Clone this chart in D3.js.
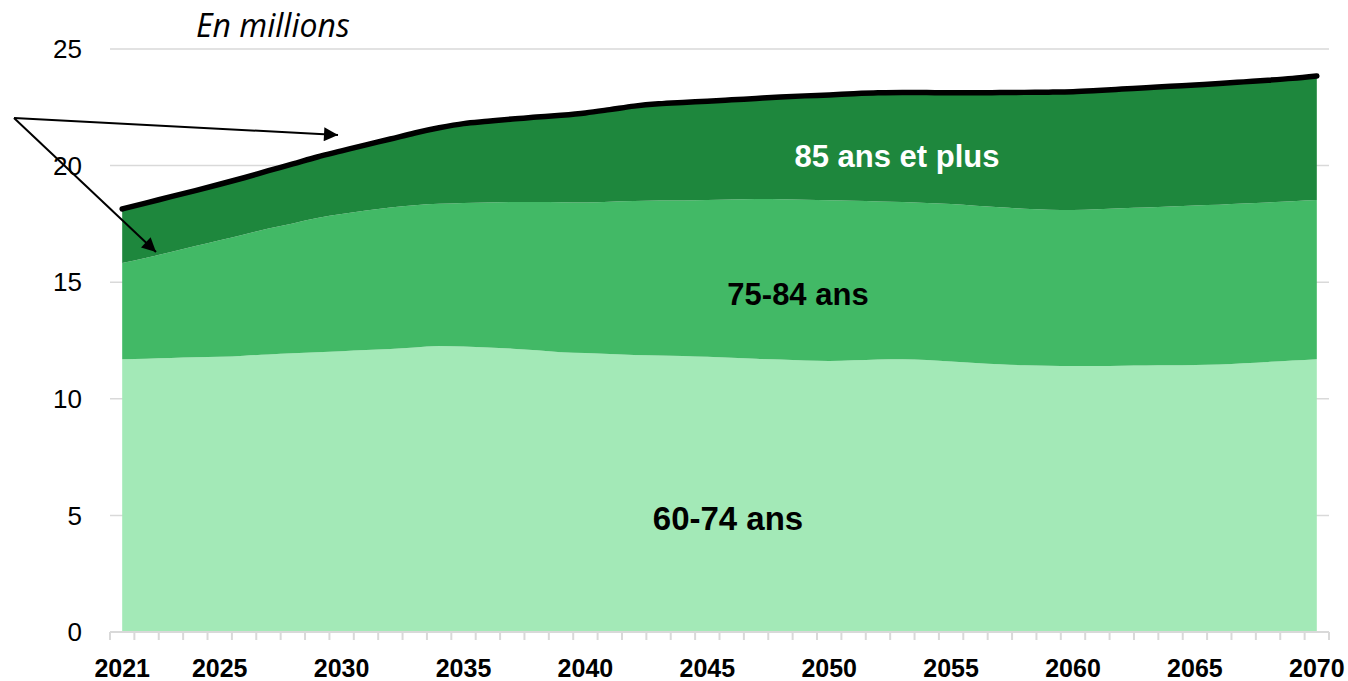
<!DOCTYPE html>
<html>
<head>
<meta charset="utf-8">
<script src="https://cdn.jsdelivr.net/npm/d3@7"></script>
<style>
  body { margin: 0; background: #fff; }
</style>
</head>
<body>
<svg id="chart"></svg>
<script>
var years = d3.range(2021, 2071)

var tickYears = [2021, 2025, 2030, 2035, 2040, 2045, 2050, 2055, 2060, 2065, 2070]

var yTicks = [0, 5, 10, 15, 20, 25]

var seriesNames = ["60-74 ans", "75-84 ans", "85 ans et plus"]

// en millions
var age6074 = [11.70, 11.72, 11.75, 11.78, 11.80, 11.85, 11.90, 11.95, 12.00, 12.04,
               12.09, 12.14, 12.20, 12.26, 12.24, 12.20, 12.15, 12.08, 12.00, 11.96,
               11.92, 11.88, 11.86, 11.84, 11.80, 11.76, 11.72, 11.68, 11.64, 11.62,
               11.65, 11.69, 11.70, 11.66, 11.60, 11.53, 11.48, 11.44, 11.42, 11.41,
               11.41, 11.42, 11.43, 11.44, 11.45, 11.47, 11.52, 11.58, 11.64, 11.70]

var age7584 = [4.12, 4.33, 4.55, 4.77, 5.00, 5.20, 5.40, 5.57, 5.75, 5.88,
               5.98, 6.06, 6.10, 6.10, 6.16, 6.22, 6.29, 6.36, 6.43, 6.46,
               6.53, 6.60, 6.64, 6.66, 6.72, 6.79, 6.85, 6.88, 6.90, 6.89,
               6.84, 6.77, 6.74, 6.74, 6.75, 6.75, 6.73, 6.71, 6.69, 6.69,
               6.72, 6.75, 6.77, 6.81, 6.84, 6.85, 6.85, 6.84, 6.83, 6.82]

var age85plus = [2.32, 2.35, 2.37, 2.38, 2.40, 2.43, 2.48, 2.55, 2.62, 2.71,
                 2.82, 2.94, 3.10, 3.26, 3.40, 3.48, 3.56, 3.64, 3.73, 3.84,
                 3.95, 4.07, 4.15, 4.21, 4.24, 4.27, 4.31, 4.38, 4.45, 4.52,
                 4.59, 4.66, 4.70, 4.73, 4.77, 4.84, 4.92, 4.99, 5.04, 5.07,
                 5.09, 5.11, 5.14, 5.15, 5.17, 5.20, 5.22, 5.24, 5.27, 5.32]

var colors = ["#a3e9b7", "#42b966", "#1e873d"]

var dimensions = ({
    width: 1348,
    height: 681,
    margin: {
        top: 49,
        bottom: 49,
        right: 19,
        left: 110
    }
})

var data = years.map(function(y, i){
    return { year: y, "60-74 ans": age6074[i], "75-84 ans": age7584[i], "85 ans et plus": age85plus[i] }
})

var svg = d3.select("#chart")
            .attr("width", dimensions.width)
            .attr("height", dimensions.height)
            .style("font-family", "'Liberation Sans', Arial, sans-serif")

var xScale = d3.scalePoint()
               .domain(years)
               .range([dimensions.margin.left, dimensions.width - dimensions.margin.right])
               .padding(0.5)

var yScale = d3.scaleLinear()
               .domain([0, 25])
               .range([dimensions.height - dimensions.margin.bottom, dimensions.margin.top])

var x0 = dimensions.margin.left
var x1 = dimensions.width - dimensions.margin.right

// gridlines
svg.append("g")
   .selectAll("line")
   .data(yTicks.filter(function(d){ return d > 0 }))
   .enter()
   .append("line")
   .attr("x1", x0)
   .attr("x2", x1)
   .attr("y1", function(d){ return yScale(d) })
   .attr("y2", function(d){ return yScale(d) })
   .attr("stroke", "#d9d9d9")
   .attr("stroke-width", 1.5)

var stack = d3.stack().keys(seriesNames)
var layers = stack(data)

var area = d3.area()
             .x(function(d){ return xScale(d.data.year) })
             .y0(function(d){ return yScale(d[0]) })
             .y1(function(d){ return yScale(d[1]) })
             .curve(d3.curveMonotoneX)

svg.append("g")
   .selectAll("path")
   .data(layers)
   .enter()
   .append("path")
   .attr("d", area)
   .attr("fill", function(d, i){ return colors[i] })

// contour noir du total
var topLine = d3.line()
                .x(function(d){ return xScale(d.data.year) })
                .y(function(d){ return yScale(d[1]) })
                .curve(d3.curveMonotoneX)

svg.append("path")
   .datum(layers[2])
   .attr("d", topLine)
   .attr("fill", "none")
   .attr("stroke", "#000")
   .attr("stroke-width", 5.5)
   .attr("stroke-linecap", "round")

// axe des x : graduations entre les categories
var step = xScale.step()
var yBase = yScale(0)
var xAxisG = svg.append("g")
xAxisG.append("line")
      .attr("x1", x0).attr("x2", x1)
      .attr("y1", yBase).attr("y2", yBase)
      .attr("stroke", "#d9d9d9")
      .attr("stroke-width", 2)
xAxisG.selectAll(".tick")
      .data(d3.range(years.length + 1))
      .enter()
      .append("line")
      .attr("x1", function(i){ return x0 + i * step })
      .attr("x2", function(i){ return x0 + i * step })
      .attr("y1", yBase)
      .attr("y2", yBase + 8)
      .attr("stroke", "#d9d9d9")
      .attr("stroke-width", 2)
xAxisG.selectAll("text")
      .data(tickYears)
      .enter()
      .append("text")
      .attr("x", function(d){ return xScale(d) })
      .attr("y", 677)
      .attr("text-anchor", "middle")
      .style("font-size", "25px")
      .style("font-weight", "bold")
      .attr("fill", "#000")
      .text(function(d){ return d })

// axe des y
svg.append("g")
   .selectAll("text")
   .data(yTicks)
   .enter()
   .append("text")
   .attr("x", 82)
   .attr("y", function(d){ return yScale(d) })
   .attr("dy", "0.35em")
   .attr("text-anchor", "end")
   .style("font-size", "26px")
   .attr("fill", "#000")
   .text(function(d){ return d })

svg.append("text")
   .attr("x", 196)
   .attr("y", 37)
   .style("font-family", "'Open Sans', sans-serif")
   .style("font-style", "italic")
   .style("font-size", "32px")
   .attr("fill", "#000")
   .text("En millions")

// etiquettes des series
svg.append("text")
   .attr("x", 728).attr("y", 530)
   .attr("text-anchor", "middle")
   .style("font-size", "33px").style("font-weight", "bold")
   .attr("fill", "#000")
   .text(seriesNames[0])

svg.append("text")
   .attr("x", 798).attr("y", 305)
   .attr("text-anchor", "middle")
   .style("font-size", "31px").style("font-weight", "bold")
   .attr("fill", "#000")
   .text(seriesNames[1])

svg.append("text")
   .attr("x", 897).attr("y", 167)
   .attr("text-anchor", "middle")
   .style("font-size", "31px").style("font-weight", "bold")
   .attr("fill", "#fff")
   .text(seriesNames[2])

// fleches
svg.append("defs").append("marker")
   .attr("id", "arrow")
   .attr("viewBox", "0 0 10 10")
   .attr("refX", 10).attr("refY", 5)
   .attr("markerWidth", 9).attr("markerHeight", 7)
   .attr("markerUnits", "strokeWidth")
   .attr("orient", "auto")
   .append("path")
   .attr("d", "M0,0 L10,5 L0,10 Z")
   .attr("fill", "#000")

var arrowFrom = [14, 118]
var arrowTo = [[338, 135], [156, 252]]
svg.append("g")
   .selectAll("line")
   .data(arrowTo)
   .enter()
   .append("line")
   .attr("x1", arrowFrom[0]).attr("y1", arrowFrom[1])
   .attr("x2", function(d){ return d[0] }).attr("y2", function(d){ return d[1] })
   .attr("stroke", "#000")
   .attr("stroke-width", 2)
   .attr("marker-end", "url(#arrow)")
</script>
</body>
</html>
